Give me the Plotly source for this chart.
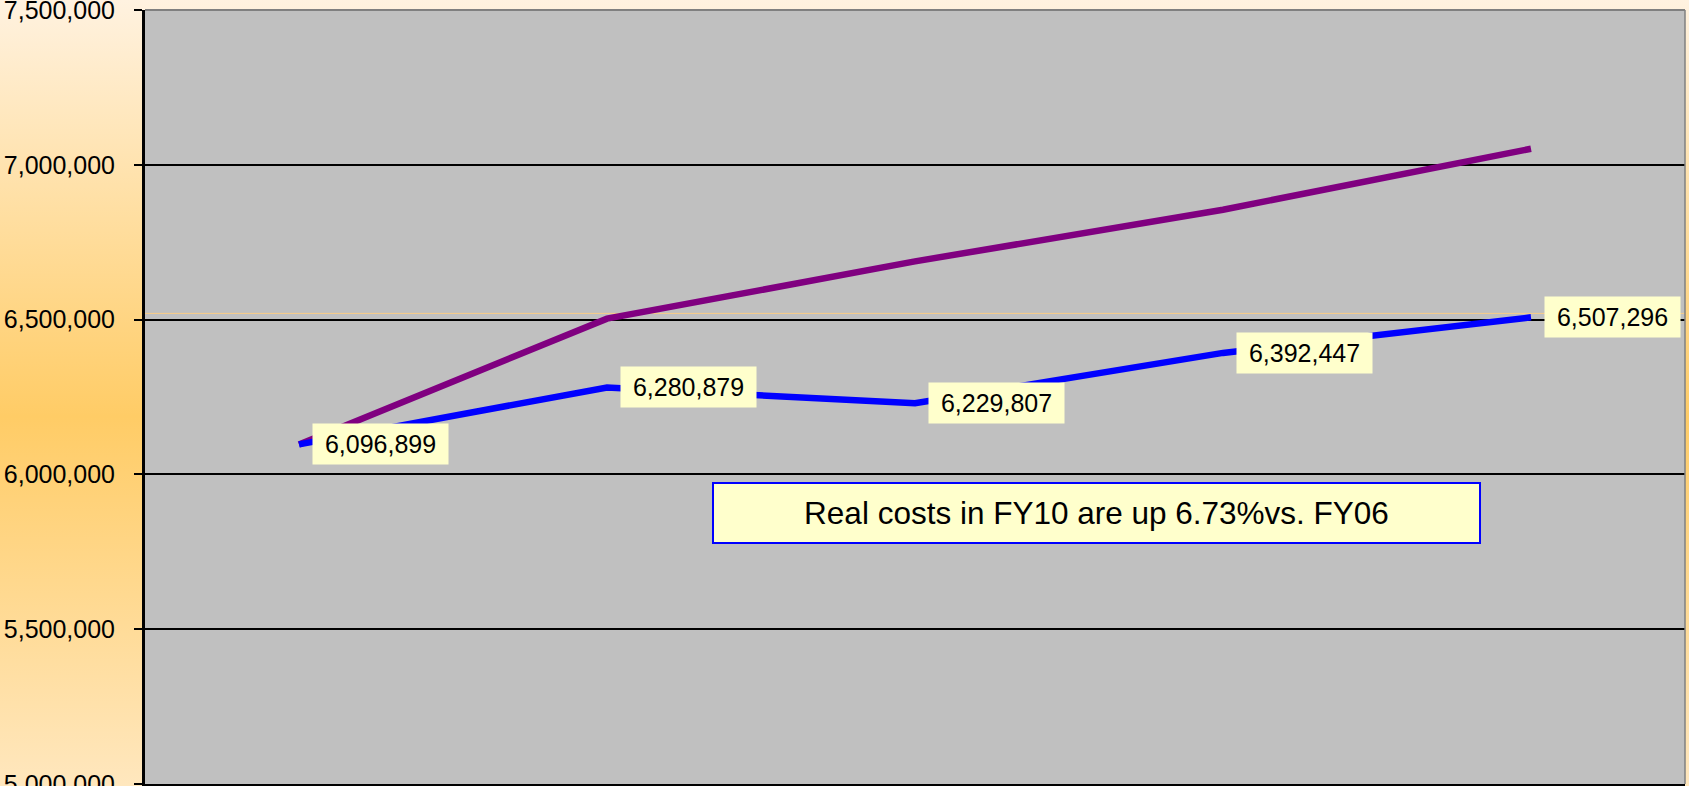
import base64
import plotly.graph_objects as go

# ---- data ----
categories = ["FY06", "FY07", "FY08", "FY09", "FY10"]
real_costs = [6096899, 6280879, 6229807, 6392447, 6507296]
projected_costs = [6096899, 6503000, 6688000, 6855000, 7052000]
reference_level = 6520000
y_ticks = [5000000, 5500000, 6000000, 6500000, 7000000, 7500000]
callout_text = "Real costs in FY10 are up 6.73%vs. FY06"

W, H = 1689, 786
ML, MR, MT, MB = 145, 4, 10, 2
PW, PH = W - ML - MR, H - MT - MB

fig = go.Figure()

fig.add_trace(go.Scatter(
    x=categories, y=projected_costs, mode="lines",
    line=dict(color="#800080", width=6.5), name="Projected", showlegend=False,
))
fig.add_trace(go.Scatter(
    x=categories, y=real_costs, mode="lines",
    line=dict(color="#0000FF", width=6.5), name="Real costs", showlegend=False,
))

# data labels
for c, v in zip(categories, real_costs):
    fig.add_annotation(
        x=c, y=v, xref="x", yref="y", text=f"{v:,}", showarrow=False,
        xanchor="left", yanchor="middle", xshift=13,
        bgcolor="#FFFFCC", borderpad=0, width=135, height=40,
        font=dict(family="Liberation Sans, Arial, sans-serif", size=25, color="black"),
    )

# callout
fig.add_annotation(
    x=(1096.5 - ML) / PW, y=(H - MB - 513) / PH, xref="paper", yref="paper",
    text=callout_text, showarrow=False, xanchor="center", yanchor="middle",
    bgcolor="#FFFFCC", bordercolor="#0000FF", borderwidth=2, borderpad=0,
    width=765, height=58,
    font=dict(family="Liberation Sans, Arial, sans-serif", size=31.5, color="black"),
)

# gradient background image (whole figure)
svg = (
    '<svg xmlns="http://www.w3.org/2000/svg" width="100" height="100" preserveAspectRatio="none">'
    '<defs><linearGradient id="g" x1="0" y1="0" x2="0" y2="1">'
    '<stop offset="0" stop-color="#FFF2E0"/>'
    '<stop offset="0.53" stop-color="#FFCC66"/>'
    '<stop offset="1" stop-color="#FFE7BE"/>'
    '</linearGradient></defs>'
    '<rect width="100" height="100" fill="url(#g)"/></svg>'
)
src = "data:image/svg+xml;base64," + base64.b64encode(svg.encode()).decode()
fig.add_layout_image(
    source=src, xref="paper", yref="paper",
    x=-ML / PW, y=1 + MT / PH, sizex=W / PW, sizey=H / PH,
    xanchor="left", yanchor="top", sizing="stretch", layer="below",
)

# plot area background
fig.add_shape(type="rect", xref="paper", yref="paper", x0=0, x1=1, y0=0, y1=1,
              fillcolor="#C0C0C0", line=dict(width=0), layer="below")
# reference line
fig.add_shape(type="line", xref="paper", yref="y", x0=0, x1=1,
              y0=reference_level, y1=reference_level,
              line=dict(color="#F8CC88", width=1), layer="below")
# plot border (top / right)
fig.add_shape(type="line", xref="paper", yref="paper", x0=0, x1=1, y0=1, y1=1,
              line=dict(color="#808080", width=2), layer="above")
fig.add_shape(type="line", xref="paper", yref="paper", x0=1, x1=1, y0=0, y1=1,
              line=dict(color="#808080", width=1.5), layer="above")

fig.update_layout(
    width=W, height=H, autosize=False,
    margin=dict(l=ML, r=MR, t=MT, b=MB, pad=0, autoexpand=False),
    paper_bgcolor="#FFF2E0", plot_bgcolor="rgba(0,0,0,0)",
    font=dict(family="Liberation Sans, Arial, sans-serif", size=25, color="black"),
    showlegend=False,
    xaxis=dict(
        type="category", categoryorder="array", categoryarray=categories,
        range=[-0.5, len(categories) - 0.5], showticklabels=False, automargin=False,
        showgrid=False, zeroline=False, showline=True, linecolor="black", linewidth=2,
        ticks="outside", tickson="boundaries", ticklen=8, tickcolor="black", tickwidth=2,
    ),
    yaxis=dict(
        range=[y_ticks[0], y_ticks[-1]], tickvals=y_ticks, tickformat=",d",
        automargin=False, ticklabeloverflow="allow",
        showgrid=True, gridcolor="black", gridwidth=1.5, zeroline=False,
        showline=True, linecolor="black", linewidth=3,
        ticks="outside", ticklen=8, tickcolor="black", tickwidth=2,
        ticklabelstandoff=14,
        tickfont=dict(family="Liberation Sans, Arial, sans-serif", size=25, color="black"),
    ),
)

fig.write_html(
    "out.html",
    config={"displayModeBar": False},
    post_script="document.body.style.margin='0';document.body.style.overflow='hidden';",
)
